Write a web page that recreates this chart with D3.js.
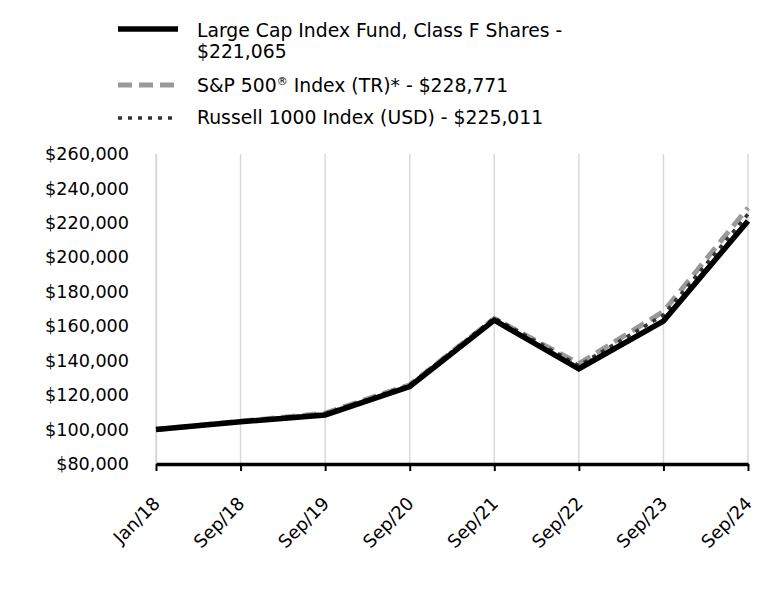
<!DOCTYPE html>
<html>
<head>
<meta charset="utf-8">
<script src="https://cdn.jsdelivr.net/npm/d3@7"></script>
<style>
  html, body { margin: 0; padding: 0; background: #fff; }
  svg { display: block; }
  text { font-family: "DejaVu Sans", sans-serif; fill: #000; }
</style>
</head>
<body>
<svg id="chart" width="768" height="612"></svg>
<script>
// ---- data ----
const categories = ["Jan/18", "Sep/18", "Sep/19", "Sep/20", "Sep/21", "Sep/22", "Sep/23", "Sep/24"];
const fundValues    = [100000, 104500, 108500, 125000, 163500, 135300, 163000, 221065];
const sp500Values   = [100000, 104800, 109500, 126000, 164500, 138300, 168500, 228771];
const russellValues = [100000, 104700, 109200, 125800, 164800, 137200, 166500, 225011];
const yTicks = [80000, 100000, 120000, 140000, 160000, 180000, 200000, 220000, 240000, 260000];
const legendLabels = [
  ["Large Cap Index Fund, Class F Shares -", "$221,065"],
  ["S&P 500", "\u00AE", " Index (TR)* - $228,771"],
  ["Russell 1000 Index (USD) - $225,011"]
];

const svg = d3.select("#chart");
const x = d3.scalePoint().domain(categories).range([156, 748]);
const y = d3.scaleLinear().domain([80000, 260000]).range([464, 154]);

// vertical gridlines
svg.append("g").selectAll("line").data(categories).join("line")
  .attr("x1", d => x(d)).attr("x2", d => x(d))
  .attr("y1", y(260000)).attr("y2", y(80000))
  .attr("stroke", "#d9d9d9").attr("stroke-width", 1.5);

// y axis
const yAxis = d3.axisLeft(y).tickValues(yTicks)
  .tickFormat(d => "$" + d3.format(",")(d)).tickSize(0).tickPadding(27);
const gy = svg.append("g").attr("transform", `translate(${x.range()[0]},0)`).call(yAxis);
gy.select(".domain").attr("stroke", "#d9d9d9").attr("stroke-width", 1.5);
gy.selectAll("text").attr("font-size", 17.6).attr("font-family", "DejaVu Sans").attr("fill", "#000");

// x axis
const xAxis = d3.axisBottom(x).tickSize(7).tickSizeOuter(0).tickPadding(6);
const gx = svg.append("g").attr("transform", `translate(0,${y(80000)})`).call(xAxis);
gx.select(".domain").attr("stroke", "#000").attr("stroke-width", 3.5);
gx.selectAll(".tick line").attr("stroke", "#000").attr("stroke-width", 2);
gx.selectAll("text")
  .attr("font-size", 18).attr("font-family", "DejaVu Sans").attr("fill", "#000")
  .attr("text-anchor", "end")
  .attr("dy", "0.35em")
  .attr("transform", "translate(-9,27) rotate(-45)");

// lines
const line = d3.line().x((d, i) => x(categories[i])).y(d => y(d));
const series = [
  { vals: sp500Values, color: "#999999", width: 5, dash: "14,7" },
  { vals: russellValues, color: "#333333", width: 3.5, dash: "4,6" },
  { vals: fundValues, color: "#000000", width: 5.5, dash: null }
];
svg.append("g").selectAll("path").data(series).join("path")
  .attr("d", d => line(d.vals))
  .attr("fill", "none")
  .attr("stroke", d => d.color)
  .attr("stroke-width", d => d.width)
  .attr("stroke-dasharray", d => d.dash)
  .attr("stroke-linejoin", "miter");

// legend
const lg = svg.append("g");
function legendLine(s, ly) {
  lg.append("line")
    .attr("x1", 118).attr("x2", 178).attr("y1", ly).attr("y2", ly)
    .attr("stroke", s.color).attr("stroke-width", s.width)
    .attr("stroke-dasharray", s.dash);
}
legendLine(series[2], 29);
legendLine(series[0], 85);
legendLine(series[1], 118);
const fs = 18.8;
legendLabels[0].forEach((t, k) => {
  lg.append("text").attr("x", 197).attr("y", 37 + k * 21).attr("font-size", fs).text(t);
});
const t2 = lg.append("text").attr("x", 197).attr("y", 92).attr("font-size", fs);
t2.append("tspan").text(legendLabels[1][0]);
t2.append("tspan").attr("font-size", 11).attr("dy", -7).text(legendLabels[1][1]);
t2.append("tspan").attr("dy", 7).text(legendLabels[1][2]);
lg.append("text").attr("x", 197).attr("y", 124).attr("font-size", fs).text(legendLabels[2][0]);
</script>
</body>
</html>
